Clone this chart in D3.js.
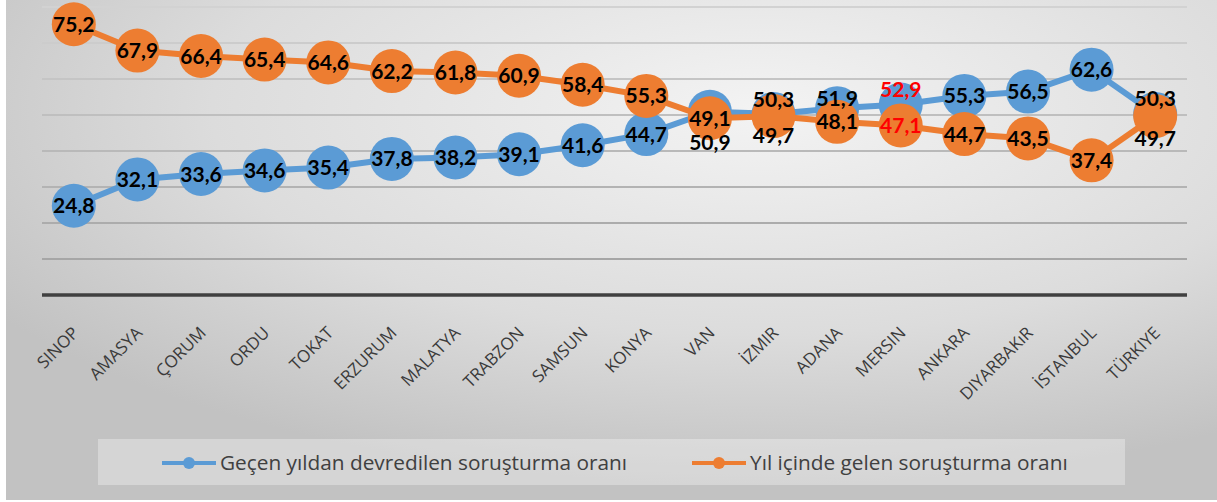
<!DOCTYPE html>
<html>
<head>
<meta charset="utf-8" />
<title>Soruşturma oranları</title>
<script src="https://d3js.org/d3.v7.min.js"></script>
<style>
body { margin: 0; background: #ffffff; }
svg { display: block; }
.lbl { font-family: Lato, 'Open Sans', sans-serif; font-weight: bold; font-size: 21px; }
.leg { font-family: 'Open Sans', sans-serif; font-size: 20.8px; fill: #404040; }
</style>
</head>
<body>
<div id="chart"></div>
<script>
// categories (provinces) and the two series
var iller = ["SINOP", "AMASYA", "ÇORUM", "ORDU", "TOKAT", "ERZURUM", "MALATYA", "TRABZON", "SAMSUN",
             "KONYA", "VAN", "İZMIR", "ADANA", "MERSIN", "ANKARA", "DIYARBAKıR", "İSTANBUL", "TÜRKIYE"];
var devredilen = [24.8, 32.1, 33.6, 34.6, 35.4, 37.8, 38.2, 39.1, 41.6, 44.7, 50.9, 50.3, 51.9, 52.9, 55.3, 56.5, 62.6, 50.3];
var gelen      = [75.2, 67.9, 66.4, 65.4, 64.6, 62.2, 61.8, 60.9, 58.4, 55.3, 49.1, 49.7, 48.1, 47.1, 44.7, 43.5, 37.4, 49.7];
var seriesNames = ["Geçen yıldan devredilen soruşturma oranı", "Yıl içinde gelen soruşturma oranı"];

// hand-moved data labels in the original (vertical nudge, px)
var blueNudge = { "VAN": 31, "İZMIR": -14, "ADANA": -10, "MERSIN": -15, "TÜRKIYE": -15 };
var orangeNudge = { "İZMIR": 19, "TÜRKIYE": 22 };
var redLabel = "MERSIN";

var W = 1217, H = 502;
var blue = "#5b9bd5", orange = "#ed7d31";

var svg = d3.select("#chart").append("svg").attr("width", W).attr("height", H);

var defs = svg.append("defs");
var grad = defs.append("radialGradient").attr("id", "bg")
    .attr("cx", "62%").attr("cy", "22%").attr("r", "75%");
grad.append("stop").attr("offset", "0%").attr("stop-color", "#f3f3f3");
grad.append("stop").attr("offset", "60%").attr("stop-color", "#dcdcdc");
grad.append("stop").attr("offset", "100%").attr("stop-color", "#c2c2c2");

svg.append("rect").attr("x", 6).attr("y", 0).attr("width", W - 6).attr("height", 500)
    .attr("fill", "url(#bg)");

var x = d3.scaleBand().domain(iller).range([42, 1187]);
var y = d3.scaleLinear().domain([0, 80]).range([295, 7]);
var cx = function(d, i) { return x(iller[i]) + x.bandwidth() / 2; };

// gridlines
var ticks = y.ticks(8).filter(function(t) { return t > 0; });
var gridCol = d3.scaleLinear().domain([80, 10]).range(["#d2d2d2", "#a6a6a6"]);
svg.append("g").selectAll("line").data(ticks).enter().append("line")
    .attr("x1", 42).attr("x2", 1187)
    .attr("y1", function(d) { return y(d); }).attr("y2", function(d) { return y(d); })
    .attr("stroke", function(d) { return gridCol(d); }).attr("stroke-width", 2);

svg.append("line").attr("x1", 42).attr("x2", 1187).attr("y1", y(0)).attr("y2", y(0))
    .attr("stroke", "#404040").attr("stroke-width", 3.5);

// category labels
var ax = svg.append("g").attr("transform", "translate(0," + y(0) + ")")
    .call(d3.axisBottom(x).tickSize(0));
ax.select(".domain").remove();
ax.attr("font-family", "'Open Sans', sans-serif").attr("font-size", 17);
ax.selectAll("text")
    .attr("fill", "#3a3a3a")
    .attr("text-anchor", "end")
    .attr("dy", null).attr("y", 0)
    .attr("transform", "translate(6,39) rotate(-45)");

// lines + markers
function drawSeries(vals, col) {
    var line = d3.line().x(cx).y(function(d) { return y(d); });
    svg.append("path").datum(vals).attr("d", line)
        .attr("fill", "none").attr("stroke", col).attr("stroke-width", 6)
        .attr("stroke-linejoin", "round");
    svg.append("g").selectAll("circle").data(vals).enter().append("circle")
        .attr("cx", cx).attr("cy", function(d) { return y(d); })
        .attr("r", 22).attr("fill", col);
}
drawSeries(devredilen, blue);
drawSeries(gelen, orange);

function fmt(v) { return v.toFixed(1).replace(".", ","); }

function drawLabels(vals, nudge) {
    svg.append("g").selectAll("text").data(vals).enter().append("text")
        .attr("class", "lbl")
        .attr("x", cx)
        .attr("y", function(d, i) { return y(d) + (nudge[iller[i]] || 0); })
        .attr("dy", "0.36em")
        .attr("text-anchor", "middle")
        .attr("fill", function(d, i) { return iller[i] === redLabel ? "#ff0000" : "#000000"; })
        .text(fmt);
}
drawLabels(devredilen, blueNudge);
drawLabels(gelen, orangeNudge);

// legend
svg.append("rect").attr("x", 98).attr("y", 439).attr("width", 1027).attr("height", 46)
    .attr("fill", "#ffffff").attr("fill-opacity", 0.32);
var legX = [162, 692];
[blue, orange].forEach(function(col, i) {
    var g = svg.append("g").attr("transform", "translate(" + legX[i] + ",463)");
    g.append("line").attr("x1", 0).attr("x2", 54).attr("stroke", col).attr("stroke-width", 4);
    g.append("circle").attr("cx", 27).attr("r", 6).attr("fill", col);
    g.append("text").attr("class", "leg").attr("x", 58).attr("y", 7).text(seriesNames[i]);
});
</script>
</body>
</html>
